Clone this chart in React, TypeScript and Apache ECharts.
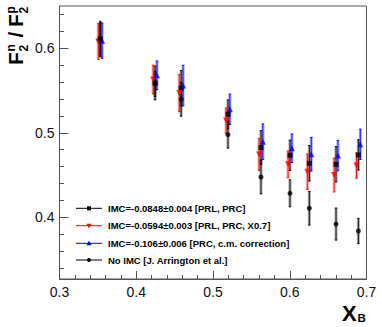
import React, { useEffect, useRef } from 'react';
import * as echarts from 'echarts';

const FONT = '"Liberation Sans", Arial, Helvetica, sans-serif';

// x positions per series (small horizontal offsets as in the plot)
const xImcA = [0.353, 0.4245, 0.4585, 0.5195, 0.5625, 0.6003, 0.6255, 0.6603, 0.6894];
const xImcB = [0.3505, 0.422, 0.456, 0.517, 0.56, 0.5978, 0.623, 0.6578, 0.6869];
const xImcC = [0.3555, 0.427, 0.461, 0.522, 0.565, 0.6028, 0.628, 0.6628, 0.6919];
const xNoImc = [0.353, 0.4245, 0.4585, 0.5195, 0.5625, 0.6003, 0.6255, 0.6603, 0.6894];

// IMC=-0.0848 [PRL, PRC]
const yImcA = [0.611, 0.559, 0.5527, 0.5219, 0.4826, 0.4734, 0.4639, 0.4627, 0.4738];
const eImcA = [0.021, 0.02, 0.021, 0.017, 0.02, 0.018, 0.021, 0.021, 0.018];
// IMC=-0.0594 [PRL, PRC, X0.7]
const yImcB = [0.608, 0.563, 0.547, 0.5144, 0.4744, 0.4627, 0.454, 0.45, 0.4612];
const eImcB = [0.021, 0.017, 0.022, 0.015, 0.019, 0.016, 0.021, 0.02, 0.015];
// IMC=-0.106 [PRC, c.m. correction]
const yImcC = [0.609, 0.568, 0.5558, 0.5278, 0.4895, 0.4817, 0.4746, 0.473, 0.4864];
const eImcC = [0.021, 0.017, 0.024, 0.018, 0.021, 0.017, 0.02, 0.018, 0.018];
// No IMC
const yNoImc = [0.61, 0.558, 0.5396, 0.4978, 0.4477, 0.4284, 0.4107, 0.392, 0.3838];
const eNoImc = [0.02, 0.015, 0.02, 0.016, 0.02, 0.016, 0.02, 0.019, 0.015];

const xMajor = [0.3, 0.4, 0.5, 0.6, 0.7];
const xMinor = [0.32, 0.34, 0.36, 0.38, 0.42, 0.44, 0.46, 0.48, 0.52, 0.54, 0.56, 0.58, 0.62, 0.64, 0.66, 0.68];
const yMajor = [0.4, 0.5, 0.6];
const yMinor = [0.34, 0.36, 0.38, 0.42, 0.44, 0.46, 0.48, 0.52, 0.54, 0.56, 0.58, 0.62, 0.64];

const legendLabels = [
  'IMC=-0.0848\u00b10.004 [PRL, PRC]',
  'IMC=-0.0594\u00b10.003 [PRL, PRC, X0.7]',
  'IMC=-0.106\u00b10.006 [PRC, c.m. correction]',
  'No IMC [J. Arrington et al.]',
];

const X_MIN = 0.3, X_MAX = 0.7, Y_MIN = 0.327, Y_MAX = 0.65;
const AXIS_COLOR = '#555';

function errSeries(xs: number[], ys: number[], es: number[], color: string) {
  return {
    type: 'custom',
    xAxisIndex: 0,
    yAxisIndex: 0,
    silent: true,
    z: 2,
    encode: { x: 0, y: 1 },
    data: xs.map((x, i) => [x, ys[i], es[i]]),
    renderItem: (_p: any, api: any) => {
      const x = api.value(0), y = api.value(1), e = api.value(2);
      const p1 = api.coord([x, y + e]);
      const p2 = api.coord([x, y - e]);
      const cx = p1[0];
      return {
        type: 'group',
        children: [
          { type: 'rect', shape: { x: cx - 1.6, y: p1[1], width: 3.2, height: p2[1] - p1[1] }, style: { fill: color, opacity: 0.3 } },
          { type: 'line', shape: { x1: cx, y1: p1[1], x2: cx, y2: p2[1] }, style: { stroke: color, lineWidth: 0.9 } },
          { type: 'line', shape: { x1: cx - 1.2, y1: p1[1], x2: cx + 1.2, y2: p1[1] }, style: { stroke: color, lineWidth: 0.9 } },
          { type: 'line', shape: { x1: cx - 1.2, y1: p2[1], x2: cx + 1.2, y2: p2[1] }, style: { stroke: color, lineWidth: 0.9 } },
        ],
      };
    },
  };
}

function markSeries(xs: number[], ys: number[], color: string, symbol: string, size: number, rotate = 0) {
  return {
    type: 'scatter',
    xAxisIndex: 0,
    yAxisIndex: 0,
    silent: true,
    z: 3,
    symbol,
    symbolSize: size,
    symbolRotate: rotate,
    itemStyle: { color },
    data: xs.map((x, i) => [x, ys[i]]),
  };
}

function legendGraphic() {
  const rows = [208.3, 225.7, 243.3, 260];
  const colors = ['#000', '#f00', '#00f', '#000'];
  const out: any[] = [];
  rows.forEach((y, i) => {
    out.push({ type: 'line', shape: { x1: 76, y1: y, x2: 102, y2: y }, style: { stroke: colors[i], lineWidth: 1 }, z: 10 });
    const mx = 89;
    if (i === 0) out.push({ type: 'rect', shape: { x: mx - 2, y: y - 2, width: 4, height: 4 }, style: { fill: '#000' }, z: 11 });
    if (i === 1) out.push({ type: 'polygon', shape: { points: [[mx - 2.6, y - 2], [mx + 2.6, y - 2], [mx, y + 2.6]] }, style: { fill: '#f00' }, z: 11 });
    if (i === 2) out.push({ type: 'polygon', shape: { points: [[mx - 2.6, y + 2], [mx + 2.6, y + 2], [mx, y - 2.6]] }, style: { fill: '#00f' }, z: 11 });
    if (i === 3) out.push({ type: 'circle', shape: { cx: mx, cy: y, r: 2 }, style: { fill: '#000' }, z: 11 });
    out.push({
      type: 'text', x: 108, y: y, z: 11,
      style: { text: legendLabels[i], fontFamily: FONT, fontWeight: 'bold', fontSize: 9.5, fill: '#000', verticalAlign: 'middle', align: 'left' },
    });
  });
  return out;
}

function titleGraphic() {
  const big = { fontFamily: FONT, fontWeight: 'bold', fontSize: 21, fill: '#000', verticalAlign: 'middle', align: 'left' };
  const small = { fontFamily: FONT, fontWeight: 'bold', fontSize: 12, fill: '#000', verticalAlign: 'middle', align: 'left' };
  const yTitle = {
    type: 'group',
    x: 15.8,
    y: 65,
    rotation: Math.PI / 2,
    children: [
      { type: 'text', x: 0, y: 0, style: { ...big, text: 'F' } },
      { type: 'text', x: 13.5, y: -4.5, style: { ...small, text: 'n' } },
      { type: 'text', x: 13.5, y: 8, style: { ...small, text: '2' } },
      { type: 'text', x: 27.5, y: 0, style: { ...big, text: '/' } },
      { type: 'text', x: 38, y: 0, style: { ...big, text: 'F' } },
      { type: 'text', x: 51.5, y: -4.5, style: { ...small, text: 'p' } },
      { type: 'text', x: 51.5, y: 8, style: { ...small, text: '2' } },
    ],
  };
  const xTitle = [
    { type: 'text', x: 342, y: 313.5, style: { ...big, fontSize: 22, text: 'X' } },
    { type: 'text', x: 357.5, y: 318, style: { ...small, fontSize: 11.5, text: 'B' } },
  ];
  return [yTitle, ...xTitle];
}

const tickLabel = { fontFamily: FONT, fontSize: 14, color: '#111' };

export default function App() {
  const ref = useRef<HTMLDivElement>(null);
  useEffect(() => {
    const chart = echarts.init(ref.current!, null, { renderer: 'svg' });
    const option: any = {
      animation: false,
      backgroundColor: '#fff',
      grid: { left: 59.5, right: 15.5, top: 6, bottom: 48, show: true, borderColor: AXIS_COLOR, borderWidth: 1, containLabel: false },
      xAxis: [
        {
          type: 'value', position: 'bottom', min: X_MIN, max: X_MAX,
          axisLine: { show: true, lineStyle: { color: AXIS_COLOR } },
          axisTick: { show: true, inside: true, length: 8, customValues: xMajor, lineStyle: { color: AXIS_COLOR } },
          axisLabel: { show: true, customValues: xMajor, margin: 6, formatter: (v: number) => v.toFixed(1), ...tickLabel },
          splitLine: { show: false },
        },
        {
          type: 'value', position: 'bottom', min: X_MIN, max: X_MAX,
          axisLine: { show: false },
          axisTick: { show: true, inside: true, length: 4, customValues: xMinor, lineStyle: { color: AXIS_COLOR } },
          axisLabel: { show: false },
          splitLine: { show: false },
        },
      ],
      yAxis: [
        {
          type: 'value', position: 'left', min: Y_MIN, max: Y_MAX,
          axisLine: { show: true, lineStyle: { color: AXIS_COLOR } },
          axisTick: { show: true, inside: true, length: 9, customValues: yMajor, lineStyle: { color: AXIS_COLOR } },
          axisLabel: { show: true, customValues: yMajor, margin: 5, formatter: (v: number) => v.toFixed(1), ...tickLabel },
          splitLine: { show: false },
        },
        {
          type: 'value', position: 'left', min: Y_MIN, max: Y_MAX,
          axisLine: { show: false },
          axisTick: { show: true, inside: true, length: 4.5, customValues: yMinor, lineStyle: { color: AXIS_COLOR } },
          axisLabel: { show: false },
          splitLine: { show: false },
        },
      ],
      series: [
        errSeries(xImcA, yImcA, eImcA, '#000'),
        errSeries(xImcB, yImcB, eImcB, '#f00'),
        errSeries(xImcC, yImcC, eImcC, '#00f'),
        errSeries(xNoImc, yNoImc, eNoImc, '#000'),
        markSeries(xImcA, yImcA, '#000', 'rect', 5),
        markSeries(xImcB, yImcB, '#f00', 'triangle', 6, 180),
        markSeries(xImcC, yImcC, '#00f', 'triangle', 6),
        markSeries(xNoImc, yNoImc, '#000', 'circle', 5),
      ],
      graphic: [...legendGraphic(), ...titleGraphic()],
    };
    chart.setOption(option);
    return () => chart.dispose();
  }, []);
  return <div ref={ref} style={{ position: 'fixed', left: 0, top: 0, width: 382, height: 327 }} />;
}
